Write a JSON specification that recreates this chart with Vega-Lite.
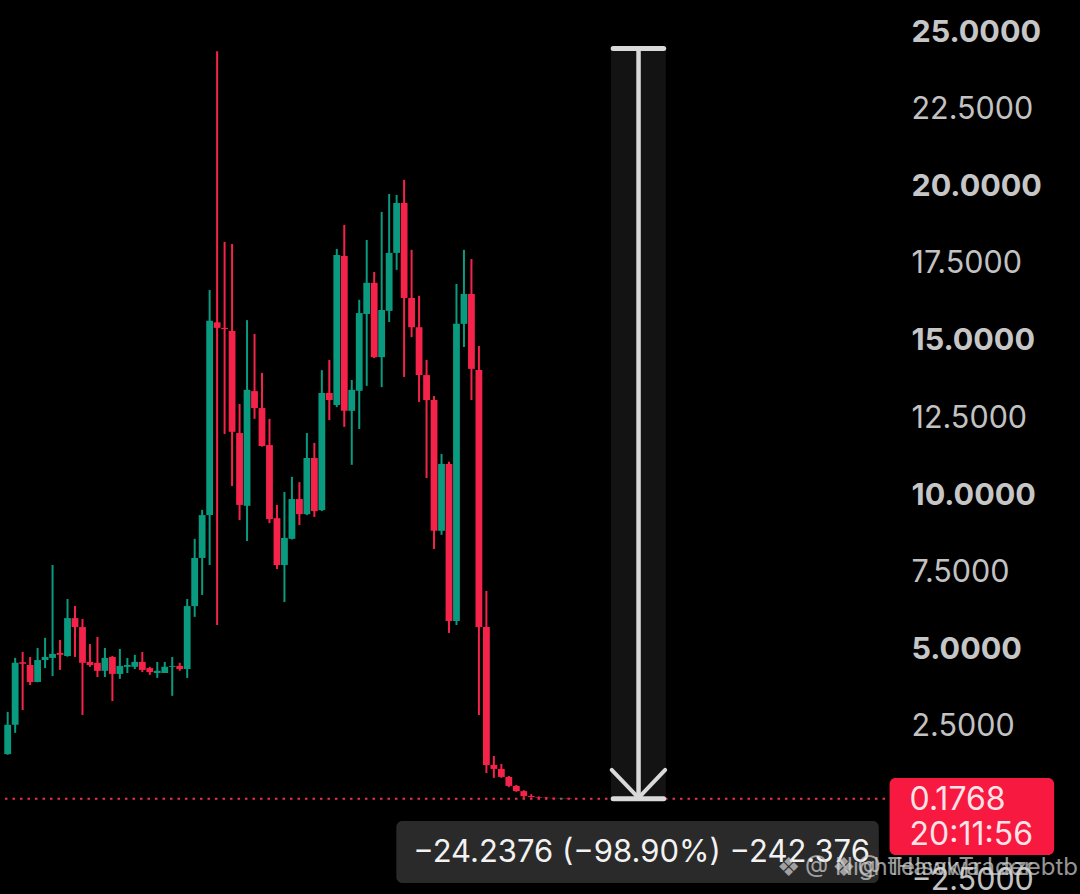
{
  "$schema": "https://vega.github.io/schema/vega-lite/v6.json",
  "description": "Candlestick chart with a price-range measurement tool",
  "width": 1080,
  "height": 894,
  "autosize": {"type": "none"},
  "padding": 0,
  "background": "#000000",
  "config": {
    "view": {"stroke": null},
    "font": "Inter"
  },
  "datasets": {
    "candles": [
      {"i": 0, "o": 1.62, "h": 2.99, "l": 1.60, "c": 2.57},
      {"i": 1, "o": 2.57, "h": 4.74, "l": 2.31, "c": 4.58},
      {"i": 2, "o": 4.60, "h": 4.93, "l": 3.05, "c": 4.55},
      {"i": 3, "o": 4.51, "h": 4.77, "l": 3.86, "c": 3.96},
      {"i": 4, "o": 3.96, "h": 5.06, "l": 3.95, "c": 4.67},
      {"i": 5, "o": 4.67, "h": 5.39, "l": 4.41, "c": 4.77},
      {"i": 6, "o": 4.74, "h": 7.75, "l": 4.15, "c": 4.87},
      {"i": 7, "o": 4.90, "h": 5.32, "l": 4.35, "c": 4.84},
      {"i": 8, "o": 4.80, "h": 6.65, "l": 4.78, "c": 6.03},
      {"i": 9, "o": 6.03, "h": 6.42, "l": 4.77, "c": 5.74},
      {"i": 10, "o": 5.74, "h": 6.00, "l": 2.89, "c": 4.58},
      {"i": 11, "o": 4.61, "h": 5.19, "l": 4.45, "c": 4.51},
      {"i": 12, "o": 4.58, "h": 5.42, "l": 4.12, "c": 4.32},
      {"i": 13, "o": 4.32, "h": 5.06, "l": 4.12, "c": 4.74},
      {"i": 14, "o": 4.77, "h": 4.80, "l": 3.34, "c": 4.22},
      {"i": 15, "o": 4.22, "h": 5.03, "l": 4.06, "c": 4.48},
      {"i": 16, "o": 4.45, "h": 4.74, "l": 4.25, "c": 4.51},
      {"i": 17, "o": 4.45, "h": 4.84, "l": 4.38, "c": 4.61},
      {"i": 18, "o": 4.61, "h": 4.93, "l": 4.28, "c": 4.35},
      {"i": 19, "o": 4.41, "h": 4.45, "l": 4.19, "c": 4.28},
      {"i": 20, "o": 4.25, "h": 4.61, "l": 4.09, "c": 4.32},
      {"i": 21, "o": 4.25, "h": 4.61, "l": 4.25, "c": 4.45},
      {"i": 22, "o": 4.45, "h": 4.77, "l": 3.51, "c": 4.48},
      {"i": 23, "o": 4.48, "h": 4.58, "l": 4.32, "c": 4.38},
      {"i": 24, "o": 4.38, "h": 6.65, "l": 4.09, "c": 6.42},
      {"i": 25, "o": 6.42, "h": 8.60, "l": 6.07, "c": 7.98},
      {"i": 26, "o": 7.98, "h": 9.54, "l": 6.78, "c": 9.37},
      {"i": 27, "o": 9.37, "h": 16.67, "l": 7.75, "c": 15.67},
      {"i": 28, "o": 15.62, "h": 24.41, "l": 5.81, "c": 15.44},
      {"i": 29, "o": 15.44, "h": 18.23, "l": 12.00, "c": 15.40},
      {"i": 30, "o": 15.34, "h": 18.16, "l": 10.31, "c": 12.07},
      {"i": 31, "o": 12.03, "h": 12.97, "l": 9.21, "c": 9.70},
      {"i": 32, "o": 9.67, "h": 15.69, "l": 8.53, "c": 13.43},
      {"i": 33, "o": 13.39, "h": 15.24, "l": 12.49, "c": 12.84},
      {"i": 34, "o": 12.84, "h": 13.98, "l": 11.59, "c": 11.61},
      {"i": 35, "o": 11.64, "h": 12.49, "l": 9.11, "c": 9.24},
      {"i": 36, "o": 9.27, "h": 9.70, "l": 7.62, "c": 7.75},
      {"i": 37, "o": 7.75, "h": 10.12, "l": 6.55, "c": 8.63},
      {"i": 38, "o": 8.60, "h": 10.61, "l": 8.58, "c": 9.89},
      {"i": 39, "o": 9.89, "h": 10.44, "l": 9.05, "c": 9.40},
      {"i": 40, "o": 9.40, "h": 12.03, "l": 9.37, "c": 11.22},
      {"i": 41, "o": 11.22, "h": 11.71, "l": 9.31, "c": 9.50},
      {"i": 42, "o": 9.53, "h": 14.07, "l": 9.50, "c": 13.33},
      {"i": 43, "o": 13.33, "h": 14.40, "l": 12.45, "c": 13.10},
      {"i": 44, "o": 12.94, "h": 18.00, "l": 12.87, "c": 17.80},
      {"i": 45, "o": 17.77, "h": 18.78, "l": 12.23, "c": 12.75},
      {"i": 46, "o": 12.75, "h": 13.75, "l": 11.00, "c": 13.43},
      {"i": 47, "o": 13.40, "h": 16.35, "l": 12.16, "c": 15.92},
      {"i": 48, "o": 15.89, "h": 18.29, "l": 13.56, "c": 16.90},
      {"i": 49, "o": 16.90, "h": 17.25, "l": 14.46, "c": 14.49},
      {"i": 50, "o": 14.49, "h": 19.20, "l": 13.52, "c": 16.02},
      {"i": 51, "o": 15.99, "h": 19.78, "l": 15.63, "c": 17.87},
      {"i": 52, "o": 17.87, "h": 19.75, "l": 17.32, "c": 19.49},
      {"i": 53, "o": 19.49, "h": 20.24, "l": 13.85, "c": 16.41},
      {"i": 54, "o": 16.41, "h": 17.97, "l": 15.14, "c": 15.46},
      {"i": 55, "o": 15.46, "h": 16.48, "l": 13.04, "c": 13.91},
      {"i": 56, "o": 13.91, "h": 14.40, "l": 10.57, "c": 13.10},
      {"i": 57, "o": 13.10, "h": 13.23, "l": 8.27, "c": 8.86},
      {"i": 58, "o": 8.86, "h": 11.35, "l": 8.73, "c": 11.03},
      {"i": 59, "o": 11.03, "h": 11.10, "l": 5.55, "c": 5.94},
      {"i": 60, "o": 5.94, "h": 16.86, "l": 5.81, "c": 15.57},
      {"i": 61, "o": 15.57, "h": 17.97, "l": 14.82, "c": 16.54},
      {"i": 62, "o": 16.54, "h": 17.67, "l": 13.10, "c": 14.11},
      {"i": 63, "o": 14.07, "h": 14.85, "l": 2.89, "c": 5.74},
      {"i": 64, "o": 5.74, "h": 6.91, "l": 1.01, "c": 1.27},
      {"i": 65, "o": 1.27, "h": 1.56, "l": 0.85, "c": 1.14},
      {"i": 66, "o": 1.14, "h": 1.30, "l": 0.85, "c": 0.88},
      {"i": 67, "o": 0.88, "h": 0.91, "l": 0.55, "c": 0.59},
      {"i": 68, "o": 0.59, "h": 0.62, "l": 0.40, "c": 0.42},
      {"i": 69, "o": 0.42, "h": 0.45, "l": 0.20, "c": 0.26},
      {"i": 70, "o": 0.26, "h": 0.32, "l": 0.21, "c": 0.23},
      {"i": 71, "o": 0.23, "h": 0.25, "l": 0.20, "c": 0.21},
      {"i": 72, "o": 0.21, "h": 0.23, "l": 0.19, "c": 0.20},
      {"i": 73, "o": 0.20, "h": 0.21, "l": 0.18, "c": 0.19},
      {"i": 74, "o": 0.18, "h": 0.20, "l": 0.17, "c": 0.19},
      {"i": 75, "o": 0.19, "h": 0.20, "l": 0.17, "c": 0.1768}
    ],
    "ticks": [
      {"v": -2.5}, {"v": 2.5}, {"v": 5}, {"v": 7.5}, {"v": 10},
      {"v": 12.5}, {"v": 15}, {"v": 17.5}, {"v": 20}, {"v": 22.5}, {"v": 25}
    ],
    "measure": [
      {"x1": 80.66, "x2": 87.99, "xm": 84.34, "top": 24.5, "bottom": 0.1768}
    ],
    "measureBars": [
      {"x1": 80.95, "x2": 87.7, "p": 24.5},
      {"x1": 80.95, "x2": 87.7, "p": 0.1768}
    ],
    "arrow": [
      {"x1": 80.75, "y1": 1.11, "x2": 84.34, "y2": 0.20},
      {"x1": 87.9, "y1": 1.11, "x2": 84.34, "y2": 0.20}
    ],
    "priceLine": [
      {"x1": -0.36, "x2": 117.4, "p": 0.1768}
    ],
    "boxes": [
      {"name": "price", "x1": 117.9, "x2": 139.9, "y1": 0.846, "y2": -1.65},
      {"name": "tip", "x1": 51.96, "x2": 116.46, "y1": -0.548, "y2": -2.558}
    ],
    "labels": [
      {"name": "price", "x": 120.57, "y": 0.12, "text": "0.1768"},
      {"name": "price", "x": 120.57, "y": -1.0, "text": "20:11:56"},
      {"name": "tip", "x": 54.21, "y": -1.586, "text": "−24.2376 (−98.90%) −242.376"}
    ],
    "logos": [
      {"x": 104.4, "y": -2.07, "text": "❖"},
      {"x": 111.8, "y": -2.07, "text": "❖"}
    ],
    "watermark": [
      {"x": 106.6, "y": -2.07, "text": "@ NightHawkTrader"},
      {"x": 113.6, "y": -2.07, "text": "@ Telsawa Lazebtb"}
    ]
  },
  "layer": [
    {
      "data": {"name": "measure"},
      "mark": {"type": "rect", "fill": "#131313"},
      "encoding": {
        "x": {"field": "x1", "type": "quantitative", "scale": {"domain": [-0.358, 142.69], "nice": false, "zero": false}, "axis": null},
        "x2": {"field": "x2"},
        "y": {"field": "bottom", "type": "quantitative", "scale": {"domain": [-2.915, 26.07], "nice": false, "zero": false}, "axis": null},
        "y2": {"field": "top"}
      }
    },
    {
      "data": {"name": "ticks"},
      "transform": [{"filter": "datum.v % 5 === 0"}],
      "mark": {"type": "text", "align": "left", "baseline": "middle", "fontSize": 30.5, "font": "Inter", "fontWeight": "bold", "color": "#c6c6c6"},
      "encoding": {
        "x": {"datum": 120.83, "type": "quantitative", "scale": {"domain": [-0.358, 142.69], "nice": false, "zero": false}, "axis": null},
        "y": {"field": "v", "type": "quantitative", "scale": {"domain": [-2.915, 26.07], "nice": false, "zero": false}, "axis": null},
        "text": {"field": "v", "type": "quantitative", "format": ".4f"}
      }
    },
    {
      "data": {"name": "ticks"},
      "transform": [{"filter": "datum.v % 5 !== 0"}],
      "mark": {"type": "text", "align": "left", "baseline": "middle", "fontSize": 30.5, "font": "Inter", "fontWeight": "normal", "color": "#c2c2c2"},
      "encoding": {
        "x": {"datum": 120.83, "type": "quantitative", "scale": {"domain": [-0.358, 142.69], "nice": false, "zero": false}, "axis": null},
        "y": {"field": "v", "type": "quantitative", "scale": {"domain": [-2.915, 26.07], "nice": false, "zero": false}, "axis": null},
        "text": {"field": "v", "type": "quantitative", "format": ".4f"}
      }
    },
    {
      "data": {"name": "priceLine"},
      "mark": {"type": "rule", "stroke": "#e8334a", "strokeWidth": 2, "strokeDash": [2.5, 5]},
      "encoding": {
        "x": {"field": "x1", "type": "quantitative", "scale": {"domain": [-0.358, 142.69], "nice": false, "zero": false}, "axis": null},
        "x2": {"field": "x2"},
        "y": {"field": "p", "type": "quantitative", "scale": {"domain": [-2.915, 26.07], "nice": false, "zero": false}, "axis": null}
      }
    },
    {
      "data": {"name": "candles"},
      "mark": {"type": "rule", "strokeWidth": 2},
      "encoding": {
        "x": {"field": "i", "type": "quantitative", "scale": {"domain": [-0.358, 142.69], "nice": false, "zero": false}, "axis": null},
        "y": {"field": "l", "type": "quantitative", "scale": {"domain": [-2.915, 26.07], "nice": false, "zero": false}, "axis": null},
        "y2": {"field": "h"},
        "color": {"condition": {"test": "datum.c >= datum.o", "value": "#0a9a7f"}, "value": "#f5234a"}
      }
    },
    {
      "data": {"name": "candles"},
      "mark": {"type": "bar", "size": 6.8},
      "encoding": {
        "x": {"field": "i", "type": "quantitative", "scale": {"domain": [-0.358, 142.69], "nice": false, "zero": false}, "axis": null},
        "y": {"field": "o", "type": "quantitative", "scale": {"domain": [-2.915, 26.07], "nice": false, "zero": false}, "axis": null},
        "y2": {"field": "c"},
        "color": {"condition": {"test": "datum.c >= datum.o", "value": "#0a9a7f"}, "value": "#f5234a"}
      }
    },
    {
      "data": {"name": "measure"},
      "mark": {"type": "rule", "stroke": "#d9d9d9", "strokeWidth": 4.5},
      "encoding": {
        "x": {"field": "xm", "type": "quantitative", "scale": {"domain": [-0.358, 142.69], "nice": false, "zero": false}, "axis": null},
        "y": {"field": "bottom", "type": "quantitative", "scale": {"domain": [-2.915, 26.07], "nice": false, "zero": false}, "axis": null},
        "y2": {"field": "top"}
      }
    },
    {
      "data": {"name": "measureBars"},
      "mark": {"type": "rule", "stroke": "#d9d9d9", "strokeWidth": 5, "strokeCap": "round"},
      "encoding": {
        "x": {"field": "x1", "type": "quantitative", "scale": {"domain": [-0.358, 142.69], "nice": false, "zero": false}, "axis": null},
        "x2": {"field": "x2"},
        "y": {"field": "p", "type": "quantitative", "scale": {"domain": [-2.915, 26.07], "nice": false, "zero": false}, "axis": null}
      }
    },
    {
      "data": {"name": "arrow"},
      "mark": {"type": "rule", "stroke": "#d9d9d9", "strokeWidth": 4, "strokeCap": "round"},
      "encoding": {
        "x": {"field": "x1", "type": "quantitative", "scale": {"domain": [-0.358, 142.69], "nice": false, "zero": false}, "axis": null},
        "x2": {"field": "x2"},
        "y": {"field": "y1", "type": "quantitative", "scale": {"domain": [-2.915, 26.07], "nice": false, "zero": false}, "axis": null},
        "y2": {"field": "y2"}
      }
    },
    {
      "data": {"name": "boxes"},
      "mark": {"type": "rect", "cornerRadius": 6},
      "encoding": {
        "x": {"field": "x1", "type": "quantitative", "scale": {"domain": [-0.358, 142.69], "nice": false, "zero": false}, "axis": null},
        "x2": {"field": "x2"},
        "y": {"field": "y1", "type": "quantitative", "scale": {"domain": [-2.915, 26.07], "nice": false, "zero": false}, "axis": null},
        "y2": {"field": "y2"},
        "color": {"condition": {"test": "datum.name === 'price'", "value": "#f7193f"}, "value": "#2a2a2a"}
      }
    },
    {
      "data": {"name": "labels"},
      "transform": [{"filter": "datum.name === 'price'"}],
      "mark": {"type": "text", "align": "left", "baseline": "middle", "fontSize": 32, "font": "Inter", "color": "#ffe3e8"},
      "encoding": {
        "x": {"field": "x", "type": "quantitative", "scale": {"domain": [-0.358, 142.69], "nice": false, "zero": false}, "axis": null},
        "y": {"field": "y", "type": "quantitative", "scale": {"domain": [-2.915, 26.07], "nice": false, "zero": false}, "axis": null},
        "text": {"field": "text"}
      }
    },
    {
      "data": {"name": "labels"},
      "transform": [{"filter": "datum.name === 'tip'"}],
      "mark": {"type": "text", "align": "left", "baseline": "middle", "fontSize": 31, "font": "Inter", "color": "#f2f2f2"},
      "encoding": {
        "x": {"field": "x", "type": "quantitative", "scale": {"domain": [-0.358, 142.69], "nice": false, "zero": false}, "axis": null},
        "y": {"field": "y", "type": "quantitative", "scale": {"domain": [-2.915, 26.07], "nice": false, "zero": false}, "axis": null},
        "text": {"field": "text"}
      }
    },
    {
      "data": {"name": "logos"},
      "mark": {"type": "text", "align": "center", "baseline": "middle", "fontSize": 26, "font": "DejaVu Sans", "opacity": 0.7, "color": "#d4d4d4"},
      "encoding": {
        "x": {"field": "x", "type": "quantitative", "scale": {"domain": [-0.358, 142.69], "nice": false, "zero": false}, "axis": null},
        "y": {"field": "y", "type": "quantitative", "scale": {"domain": [-2.915, 26.07], "nice": false, "zero": false}, "axis": null},
        "text": {"field": "text"}
      }
    },
    {
      "data": {"name": "watermark"},
      "mark": {"type": "text", "align": "left", "baseline": "middle", "fontSize": 24, "font": "Inter", "opacity": 0.7, "color": "#d4d4d4"},
      "encoding": {
        "x": {"field": "x", "type": "quantitative", "scale": {"domain": [-0.358, 142.69], "nice": false, "zero": false}, "axis": null},
        "y": {"field": "y", "type": "quantitative", "scale": {"domain": [-2.915, 26.07], "nice": false, "zero": false}, "axis": null},
        "text": {"field": "text"}
      }
    }
  ]
}
